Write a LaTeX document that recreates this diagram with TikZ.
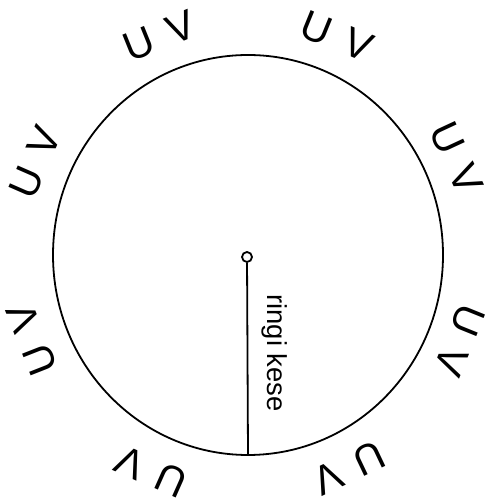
\documentclass[tikz,border=0pt]{standalone}
\usepackage{fontspec}
\setmainfont{Liberation Sans}
\begin{document}
\begin{tikzpicture}[x=0.5pt,y=0.5pt,
  uvlabel/.style={font=\fontsize{20.5}{21}\selectfont,inner sep=0pt},
  hubdot/.style={circle,draw,line width=0.9pt,minimum size=5pt,inner sep=0pt}]
\useasboundingbox (0,0) rectangle (489,502);
\coordinate (c) at (248,247);
\draw[line width=0.9pt] (c) ellipse [x radius=97.5pt, y radius=100pt];
\node[hubdot] (hub) at (247,245) {};
\coordinate (rim) at (248,47);
\draw[line width=0.9pt] (hub) -- (rim);
\node[font=\fontsize{13.7}{14}\selectfont,rotate=-90] (ringi) at (275,149) {ringi kese};
% U V around the rim
\foreach \a/\r [count=\i] in {112/236,67.8/236,24.9/230,-22/228,-64.6/236,-114/237,-158.6/232,156.4/232}
  \node[uvlabel,rotate=\a-90] (uv\i) at ([shift={(\a:\r)}]c) {U\hspace{0.4em}V};
\end{tikzpicture}
\end{document}
